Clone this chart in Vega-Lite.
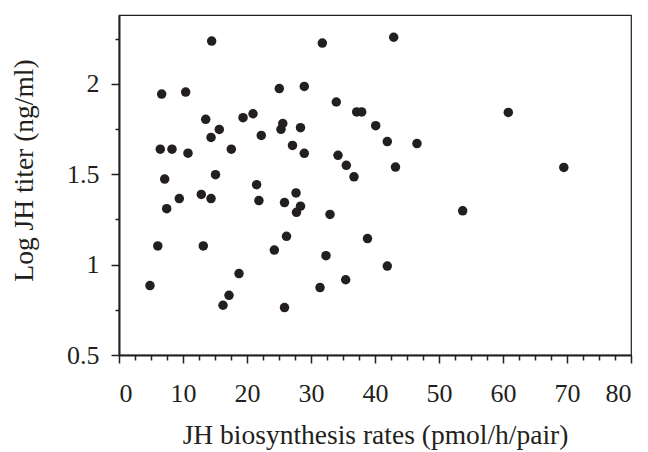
{
  "$schema": "https://vega.github.io/schema/vega-lite/v6.json",
  "width": 512,
  "height": 340,
  "autosize": "none",
  "padding": {"left": 119, "top": 15, "right": 17, "bottom": 97},
  "background": "white",
  "config": {
    "view": {"stroke": "#231f20", "strokeWidth": 1.2},
    "font": "'Liberation Serif'",
    "axis": {
      "domainColor": "#231f20",
      "domainWidth": 2,
      "tickColor": "#231f20",
      "tickWidth": 1.5,
      "grid": false,
      "labelFont": "'Liberation Serif'",
      "labelFontSize": 26,
      "labelColor": "#231f20",
      "titleFont": "'Liberation Serif'",
      "titleFontSize": 27.5,
      "titleFontWeight": "normal",
      "titleColor": "#231f20"
    }
  },
  "data": {
    "values": [
      {"rate": 4.84, "titer": 0.884},
      {"rate": 6.06, "titer": 1.103},
      {"rate": 6.45, "titer": 1.638},
      {"rate": 6.67, "titer": 1.943},
      {"rate": 7.14, "titer": 1.473},
      {"rate": 7.45, "titer": 1.309},
      {"rate": 8.28, "titer": 1.638},
      {"rate": 9.42, "titer": 1.365},
      {"rate": 10.42, "titer": 1.954},
      {"rate": 10.78, "titer": 1.616},
      {"rate": 12.86, "titer": 1.388},
      {"rate": 13.17, "titer": 1.103},
      {"rate": 13.55, "titer": 1.803},
      {"rate": 14.38, "titer": 1.703},
      {"rate": 14.38, "titer": 1.365},
      {"rate": 14.48, "titer": 2.236},
      {"rate": 15.08, "titer": 1.497},
      {"rate": 15.67, "titer": 1.747},
      {"rate": 16.25, "titer": 0.775},
      {"rate": 17.19, "titer": 0.83},
      {"rate": 17.55, "titer": 1.638},
      {"rate": 18.75, "titer": 0.95},
      {"rate": 19.38, "titer": 1.812},
      {"rate": 20.94, "titer": 1.834},
      {"rate": 21.5, "titer": 1.442},
      {"rate": 21.86, "titer": 1.354},
      {"rate": 22.23, "titer": 1.714},
      {"rate": 24.27, "titer": 1.08},
      {"rate": 25.05, "titer": 1.973},
      {"rate": 25.31, "titer": 1.748},
      {"rate": 25.59, "titer": 1.78},
      {"rate": 25.86, "titer": 1.343},
      {"rate": 25.86, "titer": 0.762},
      {"rate": 26.17, "titer": 1.156},
      {"rate": 27.11, "titer": 1.659},
      {"rate": 27.66, "titer": 1.396},
      {"rate": 27.73, "titer": 1.289},
      {"rate": 28.36, "titer": 1.323},
      {"rate": 28.36, "titer": 1.757},
      {"rate": 28.95, "titer": 1.985},
      {"rate": 28.95, "titer": 1.615},
      {"rate": 31.41, "titer": 0.873},
      {"rate": 31.77, "titer": 2.225},
      {"rate": 32.34, "titer": 1.049},
      {"rate": 32.97, "titer": 1.277},
      {"rate": 33.95, "titer": 1.899},
      {"rate": 34.22, "titer": 1.604},
      {"rate": 35.42, "titer": 0.916},
      {"rate": 35.52, "titer": 1.549},
      {"rate": 36.72, "titer": 1.485},
      {"rate": 37.14, "titer": 1.844},
      {"rate": 37.92, "titer": 1.844},
      {"rate": 38.83, "titer": 1.144},
      {"rate": 40.11, "titer": 1.768},
      {"rate": 41.92, "titer": 1.68},
      {"rate": 41.92, "titer": 0.992},
      {"rate": 42.92, "titer": 2.257},
      {"rate": 43.2, "titer": 1.539},
      {"rate": 46.56, "titer": 1.669},
      {"rate": 53.7, "titer": 1.297},
      {"rate": 60.83, "titer": 1.841},
      {"rate": 69.5, "titer": 1.537}
    ]
  },
  "layer": [
    {
      "mark": {"type": "point", "opacity": 0},
      "encoding": {
        "x": {
          "field": "rate", "type": "quantitative",
          "scale": {"domain": [0, 80], "nice": false, "zero": false},
          "axis": {"orient": "bottom", "values": [2.5, 5, 7.5, 12.5, 15, 17.5, 22.5, 25, 27.5, 32.5, 35, 37.5, 42.5, 45, 47.5, 52.5, 55, 57.5, 62.5, 65, 67.5, 72.5, 75, 77.5], "labels": false, "domain": false, "title": null, "tickSize": 5}
        },
        "y": {
          "field": "titer", "type": "quantitative",
          "scale": {"domain": [0.5, 2.38], "nice": false, "zero": false},
          "axis": {"orient": "left", "values": [0.75, 1.25, 1.75, 2.25], "labels": false, "domain": false, "title": null, "tickSize": 4}
        }
      }
    },
    {
      "mark": {"type": "circle", "color": "#231f20", "size": 90, "opacity": 1},
      "encoding": {
        "x": {
          "field": "rate", "type": "quantitative",
          "scale": {"domain": [0, 80], "nice": false, "zero": false},
          "axis": {"orient": "bottom", "values": [0, 10, 20, 30, 40, 50, 60, 70, 80], "format": "d", "tickSize": 8, "labelPadding": 17, "title": "JH biosynthesis rates (pmol/h/pair)", "titlePadding": 15}
        },
        "y": {
          "field": "titer", "type": "quantitative",
          "scale": {"domain": [0.5, 2.38], "nice": false, "zero": false},
          "axis": {"orient": "left", "values": [0.5, 1, 1.5, 2], "format": ".1~f", "tickSize": 8, "labelPadding": 12, "title": "Log JH titer (ng/ml)", "titlePadding": 28, "titleY": 155}
        }
      }
    }
  ],
  "resolve": {"axis": {"x": "independent", "y": "independent"}}
}
